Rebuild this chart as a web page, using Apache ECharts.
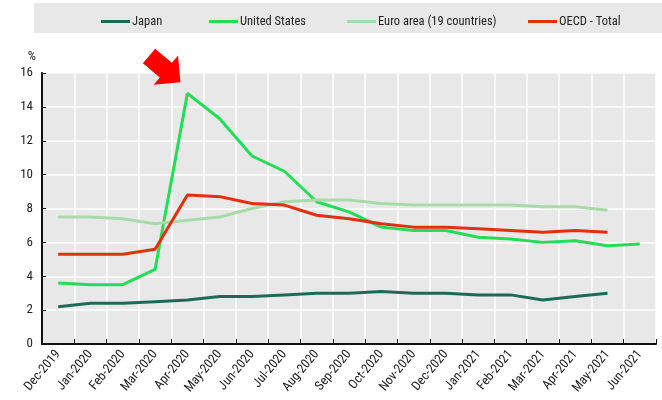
<!DOCTYPE html>
<html>
<head>
<meta charset="utf-8">
<script src="https://cdn.jsdelivr.net/npm/echarts@6/dist/echarts.min.js"></script>
<style>
  html, body { margin: 0; padding: 0; background: #ffffff; }
  #chart { width: 662px; height: 400px; }
</style>
</head>
<body>
<div id="chart"></div>
<script>
// Monthly harmonised unemployment rates, %
const months = ['Dec-2019', 'Jan-2020', 'Feb-2020', 'Mar-2020', 'Apr-2020', 'May-2020', 'Jun-2020',
  'Jul-2020', 'Aug-2020', 'Sep-2020', 'Oct-2020', 'Nov-2020', 'Dec-2020', 'Jan-2021', 'Feb-2021',
  'Mar-2021', 'Apr-2021', 'May-2021', 'Jun-2021'];

const japan = [2.2, 2.4, 2.4, 2.5, 2.6, 2.8, 2.8, 2.9, 3.0, 3.0, 3.1, 3.0, 3.0, 2.9, 2.9, 2.6, 2.8, 3.0, null];
const unitedStates = [3.6, 3.5, 3.5, 4.4, 14.8, 13.3, 11.1, 10.2, 8.4, 7.8, 6.9, 6.7, 6.7, 6.3, 6.2, 6.0, 6.1, 5.8, 5.9];
const euroArea = [7.5, 7.5, 7.4, 7.1, 7.3, 7.5, 8.0, 8.4, 8.5, 8.5, 8.3, 8.2, 8.2, 8.2, 8.2, 8.1, 8.1, 7.9, null];
const oecdTotal = [5.3, 5.3, 5.3, 5.6, 8.8, 8.7, 8.3, 8.2, 7.6, 7.4, 7.1, 6.9, 6.9, 6.8, 6.7, 6.6, 6.7, 6.6, null];

const yTicks = { min: 0, max: 16, interval: 2 };

const seriesDefs = [
  { name: 'Japan', data: japan, color: '#1d6b56' },
  { name: 'United States', data: unitedStates, color: '#22dd55' },
  { name: 'Euro area (19 countries)', data: euroArea, color: '#a9dba9' },
  { name: 'OECD - Total', data: oecdTotal, color: '#e2300f' }
];

// left edge of each legend entry along the top band
const legendLeft = [96, 204, 342, 523];

const narrow = "'Roboto Condensed', 'DejaVu Sans Condensed', sans-serif";

const chart = echarts.init(document.getElementById('chart'), null, { renderer: 'canvas' });

chart.setOption({
  animation: false,
  textStyle: { fontFamily: narrow },
  legend: seriesDefs.map((s, i) => ({
    top: 10,
    left: legendLeft[i],
    itemWidth: 29,
    itemHeight: 3,
    itemGap: 0,
    icon: 'rect',
    selectedMode: false,
    textStyle: { fontFamily: narrow, fontSize: 12.5, color: '#222', padding: [0, 0, 0, -3] },
    data: [s.name]
  })),
  grid: {
    left: 42, right: 6, top: 73, bottom: 56,
    show: true, backgroundColor: '#e8e8e8', borderWidth: 0
  },
  xAxis: {
    type: 'category',
    data: months,
    boundaryGap: true,
    axisLine: { lineStyle: { color: '#111', width: 2 } },
    axisTick: { show: true, inside: true, length: 5, lineStyle: { color: '#111', width: 1 } },
    splitLine: { show: true, interval: 0, lineStyle: { color: '#ffffff', width: 1.5 } },
    axisLabel: {
      interval: 0, rotate: 50, margin: 8,
      fontFamily: narrow, fontSize: 13, color: '#222'
    }
  },
  yAxis: {
    type: 'value',
    min: yTicks.min, max: yTicks.max, interval: yTicks.interval,
    name: '%',
    nameLocation: 'end',
    nameGap: 10,
    nameTextStyle: { fontFamily: narrow, fontSize: 13, color: '#222', align: 'right', padding: [0, 6, 0, 0] },
    axisLine: { show: true, lineStyle: { color: '#111', width: 2 } },
    axisTick: { show: true, inside: true, length: 4, lineStyle: { color: '#111', width: 1 } },
    splitLine: { show: true, lineStyle: { color: '#ffffff', width: 1.5 } },
    axisLabel: { margin: 9, fontFamily: narrow, fontSize: 13, color: '#222' }
  },
  series: seriesDefs.map(s => ({
    name: s.name,
    type: 'line',
    data: s.data,
    symbol: 'none',
    connectNulls: false,
    color: s.color,
    lineStyle: { color: s.color, width: 3 },
    z: 3
  }))
});

// Grey band behind the legend, plus the red arrow pointing at the US peak
function drawExtras() {
  const peakIdx = unitedStates.indexOf(Math.max(...unitedStates));
  const peak = chart.convertToPixel({ gridIndex: 0 }, [peakIdx, unitedStates[peakIdx]]);
  const tip = [peak[0] - 7, peak[1] - 11];
  const ang = 40 * Math.PI / 180;           // arrow heading, below horizontal
  const ux = Math.cos(ang), uy = Math.sin(ang);   // along the arrow
  const px = Math.sin(ang), py = -Math.cos(ang);  // perpendicular (towards upper right)
  const len = 41, headLen = 19, headHalf = 19, shaftHalf = 9.5;
  const at = (a, p) => [tip[0] - (len - a) * ux + p * px, tip[1] - (len - a) * uy + p * py];
  const base = len - headLen;
  const pts = [
    at(len, 0),
    at(base, headHalf), at(base, shaftHalf), at(0, shaftHalf),
    at(0, -shaftHalf), at(base, -shaftHalf), at(base, -headHalf)
  ];
  chart.setOption({
    graphic: [
      {
        type: 'rect', z: -1, silent: true,
        shape: { x: 34, y: 3, width: 628, height: 30 },
        style: { fill: '#e8e8e8' }
      },
      {
        type: 'polygon', z: 10, silent: true,
        shape: { points: pts },
        style: { fill: '#ff0000' }
      }
    ]
  });
}
drawExtras();
</script>
</body>
</html>
